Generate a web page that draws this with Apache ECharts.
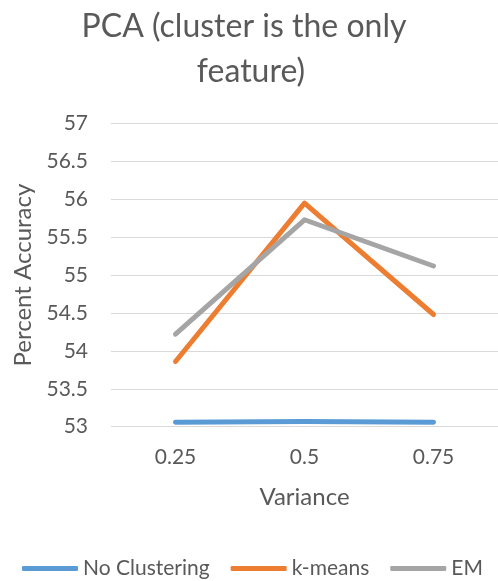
<!DOCTYPE html>
<html><head><meta charset="utf-8">
<script src="https://cdn.jsdelivr.net/npm/echarts@6/dist/echarts.min.js"></script>
<style>html,body{margin:0;padding:0;background:#fff}#c{width:498px;height:581px}</style>
</head><body><div id="c"></div>
<script>
const categories = ['0.25', '0.5', '0.75'];
const noClustering = [53.06, 53.07, 53.06];
const kMeans = [53.86, 55.95, 54.48];
const em = [54.22, 55.73, 55.12];
const seriesNames = ['No Clustering', 'k-means', 'EM'];
const colors = ['#5B9BD5', '#ED7D31', '#A5A5A5'];
const titleLines = ['PCA (cluster is the only', 'feature)'];
const FONT = 'Lato';
const TXT = '#595959';
const chart = echarts.init(document.getElementById('c'));
const mk = (name, data, color) => ({
  name, type: 'line', data, symbol: 'none',
  lineStyle: { color, width: 5, cap: 'round', join: 'round' },
  itemStyle: { color }
});
const titleStyle = { fontFamily: FONT, fontSize: 32, fontWeight: 'normal', color: TXT, lineHeight: 32 };
chart.setOption({
  animation: false,
  textStyle: { fontFamily: FONT },
  title: [
    { text: titleLines[0], left: 244, textAlign: 'center', top: 11, padding: 0, textStyle: titleStyle },
    { text: titleLines[1], left: 251, textAlign: 'center', top: 56, padding: 0, textStyle: titleStyle }
  ],
  legend: {
    bottom: 2, left: 22, itemWidth: 56, itemHeight: 5, itemGap: 21,
    icon: 'roundRect', padding: 0,
    textStyle: { fontFamily: FONT, fontSize: 21, color: TXT },
    data: seriesNames
  },
  grid: { left: 111, right: -5, top: 123.5, bottom: 154.3, containLabel: false },
  xAxis: {
    type: 'category', data: categories, boundaryGap: true,
    name: 'Variance', nameLocation: 'middle', nameGap: 59,
    nameTextStyle: { fontFamily: FONT, fontSize: 24, color: TXT },
    axisLine: { show: false }, axisTick: { show: false },
    axisLabel: { fontFamily: FONT, fontSize: 21, color: TXT, margin: 20 }
  },
  yAxis: {
    type: 'value', min: 53, max: 57, interval: 0.5,
    name: 'Percent Accuracy', nameLocation: 'middle', nameGap: 74, nameRotate: 90,
    nameTextStyle: { fontFamily: FONT, fontSize: 24, color: TXT },
    axisLine: { show: false }, axisTick: { show: false },
    axisLabel: { fontFamily: FONT, fontSize: 21, color: TXT, margin: 23 },
    splitLine: { lineStyle: { color: '#D9D9D9', width: 1.2 } }
  },
  series: [
    mk(seriesNames[0], noClustering, colors[0]),
    mk(seriesNames[1], kMeans, colors[1]),
    mk(seriesNames[2], em, colors[2])
  ]
});
</script></body></html>
